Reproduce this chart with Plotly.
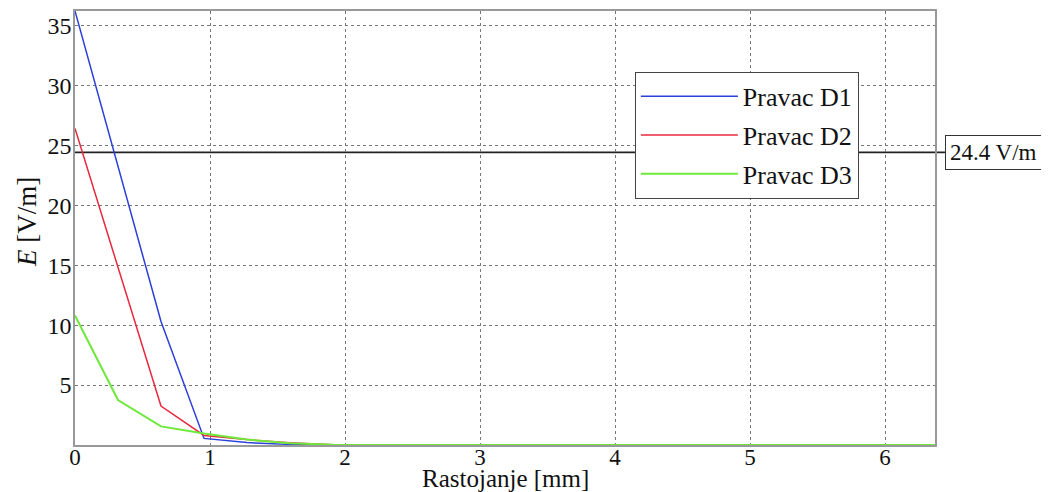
import plotly.graph_objects as go

x_mm = [0.0, 0.3185, 0.637, 0.9555, 1.274, 1.5925, 1.911, 2.2295, 2.548, 2.8665, 3.185,
        3.5035, 3.822, 4.1405, 4.459, 4.7775, 5.096, 5.4145, 5.733, 6.0515, 6.37]
d1 = [36.2, 23.3, 10.3, 0.55, 0.2, 0.05, 0.0, 0.0, 0.0, 0.0, 0.0,
      0.0, 0.0, 0.0, 0.0, 0.0, 0.0, 0.0, 0.0, 0.0, 0.0]
d2 = [26.4, 14.8, 3.25, 0.8, 0.45, 0.18, 0.02, 0.0, 0.0, 0.0, 0.0,
      0.0, 0.0, 0.0, 0.0, 0.0, 0.0, 0.0, 0.0, 0.0, 0.0]
d3 = [10.8, 3.75, 1.55, 0.95, 0.45, 0.15, 0.02, 0.0, 0.0, 0.0, 0.0,
      0.0, 0.0, 0.0, 0.0, 0.0, 0.0, 0.0, 0.0, 0.0, 0.0]
names = ["Pravac D1", "Pravac D2", "Pravac D3"]
colors = ["#2b3fd9", "#e8283c", "#6ee83a"]
threshold = 24.4
threshold_label = "24.4 V/m"
x_ticks = [0, 1, 2, 3, 4, 5, 6]
y_ticks = [5, 10, 15, 20, 25, 30, 35]
x_title = "Rastojanje [mm]"
y_title = "<i>E</i> [V/m]"

FONT = "Liberation Serif, Times New Roman, DejaVu Serif, serif"

fig = go.Figure()
for i, (name, ys, col, w) in enumerate(zip(names, [d1, d2, d3], colors, [1.5, 1.5, 2])):
    fig.add_trace(go.Scatter(x=x_mm, y=ys, mode="lines", name=name, legendgroup=f"g{i}",
                             line=dict(color=col, width=w)))

fig.add_shape(type="line", xref="paper", yref="y", x0=0, x1=1.0116,
              y0=threshold, y1=threshold, line=dict(color="#222222", width=1.8),
              layer="below")
fig.add_annotation(xref="paper", yref="y", x=1.0116, y=threshold, xanchor="left",
                   text=threshold_label, showarrow=False,
                   font=dict(family=FONT, size=23, color="#111"),
                   bordercolor="#333", borderwidth=1, borderpad=4, bgcolor="white")
fig.add_annotation(xref="paper", yref="paper", x=0.5, y=0, yanchor="top", yshift=-18,
                   text=x_title, showarrow=False,
                   font=dict(family=FONT, size=25, color="#111"))
fig.add_annotation(xref="paper", yref="paper", x=0, y=0.5, xanchor="center", xshift=-48,
                   yshift=6, textangle=-90, text=y_title, showarrow=False,
                   font=dict(family=FONT, size=27, color="#111"))

# the page body adds an 8px margin, so the figure is offset by 8px
fig.update_layout(
    width=1041, height=484,
    margin=dict(l=67, r=114, t=3, b=47),
    paper_bgcolor="white", plot_bgcolor="white",
    font=dict(family=FONT, size=22, color="#111"),
    legend=dict(x=0.651, y=0.86, xanchor="left", yanchor="top",
                bgcolor="white", bordercolor="#444", borderwidth=1,
                tracegroupgap=2, itemwidth=97,
                font=dict(family=FONT, size=26)),
    xaxis=dict(range=[0, 6.37], tickvals=x_ticks, showgrid=True, automargin=False,
               gridcolor="#777", griddash="dot", gridwidth=1,
               showline=True, linecolor="#999", linewidth=1.5, mirror=True,
               zeroline=False, ticks="", tickfont=dict(size=23),
               ticklabelstandoff=-9),
    yaxis=dict(range=[0, 36.2], tickvals=y_ticks, showgrid=True, automargin=False,
               gridcolor="#777", griddash="dot", gridwidth=1,
               showline=True, linecolor="#999", linewidth=1.5, mirror=True,
               zeroline=False, ticks="", tickfont=dict(size=24),
               ticklabelstandoff=-3),
)

fig.write_html("out.html")
